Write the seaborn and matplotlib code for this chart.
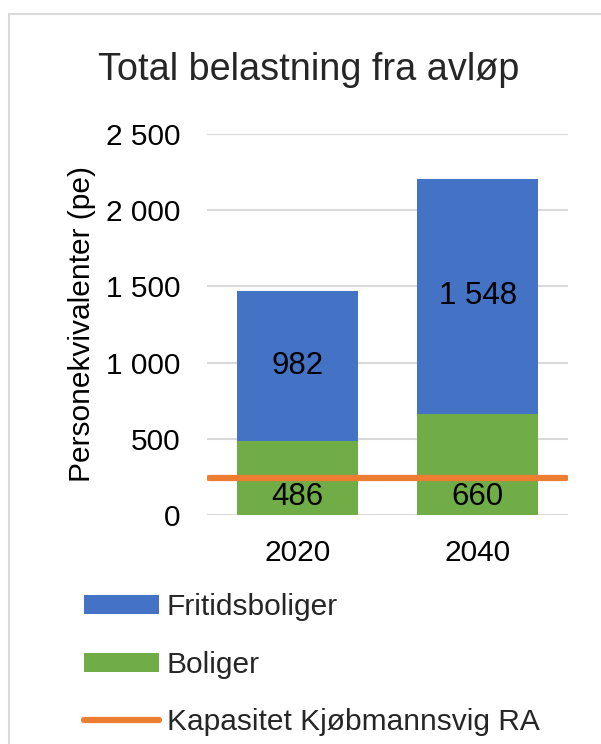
import matplotlib
matplotlib.use("Agg")
import matplotlib.pyplot as plt
import seaborn as sns
import pandas as pd
from matplotlib.patches import Patch, Rectangle
from matplotlib.lines import Line2D
from matplotlib.ticker import FuncFormatter

years = ["2020", "2040"]
boliger = [486, 660]
fritidsboliger = [982, 1548]
kapasitet = 240
yticks = [0, 500, 1000, 1500, 2000, 2500]

BLUE = "#4472C4"
GREEN = "#70AD47"
ORANGE = "#ED7D31"
GRID = "#D9D9D9"
FS = 21.5

sns.set_theme(style="white")
plt.rcParams["font.family"] = ["Liberation Sans", "DejaVu Sans"]

df = pd.DataFrame({"year": years, "boliger": boliger, "fritid": fritidsboliger})
df["total"] = df["boliger"] + df["fritid"]

fig = plt.figure(figsize=(6.01, 7.44), dpi=100)
ax = fig.add_axes([207/601, 1-515/744, (568-207)/601, (515-134)/744])

sns.barplot(data=df, x="year", y="total", color=BLUE, saturation=1, width=0.67, ax=ax, zorder=2)
sns.barplot(data=df, x="year", y="boliger", color=GREEN, saturation=1, width=0.67, ax=ax, zorder=2)
for p in ax.patches:
    p.set_edgecolor("none")

ax.axhline(kapasitet, color=ORANGE, lw=4.5, solid_capstyle="round", zorder=3, xmin=0.005, xmax=0.995)

fmt = lambda v: f"{int(v):,}".replace(",", " ")
for i, (b, f) in enumerate(zip(boliger, fritidsboliger)):
    ax.text(i, b + f / 2, fmt(f), ha="center", va="center", fontsize=22.5, color="black", zorder=4)
    ax.annotate(fmt(b), xy=(i, 0), xytext=(0, 13), textcoords="offset points",
                ha="center", va="center", fontsize=22.5, color="black", zorder=4)

ax.set_ylim(0, 2500)
ax.set_yticks(yticks)
ax.yaxis.set_major_formatter(FuncFormatter(lambda v, p: fmt(v)))
ax.grid(axis="y", color=GRID, lw=1.5, zorder=0)
ax.set_axisbelow(True)
for s in ax.spines.values():
    s.set_visible(False)
ax.tick_params(axis="both", length=0, labelsize=FS, colors="black")
ax.tick_params(axis="y", pad=19)
ax.tick_params(axis="x", pad=17.5)
ax.set_xlabel("")
ax.set_ylabel("Personekvivalenter (pe)", fontsize=FS, color="black", labelpad=7)

fig.suptitle("Total belastning fra avløp", x=309/601, y=1-70/744, va="center", fontsize=27.3)

handles = [Patch(facecolor=BLUE, edgecolor="none"),
           Patch(facecolor=GREEN, edgecolor="none"),
           Line2D([0], [0], color=ORANGE, lw=4.5, solid_capstyle="round")]
labels = ["Fritidsboliger", "Boliger", "Kapasitet Kjøbmannsvig RA"]
fig.legend(handles, labels, loc="upper left", bbox_to_anchor=(84/601, 1-593/744),
           frameon=False, fontsize=FS, handlelength=2.5, handleheight=0.6,
           handletextpad=0.27, labelspacing=0.99, borderpad=0, borderaxespad=0)

fig.patches.append(Rectangle((9/601, -0.1), 1.2, 1 - 14/744 + 0.1, transform=fig.transFigure,
                             fill=False, edgecolor=GRID, lw=1.5, zorder=-1))

fig.savefig("out.png", dpi=100)
